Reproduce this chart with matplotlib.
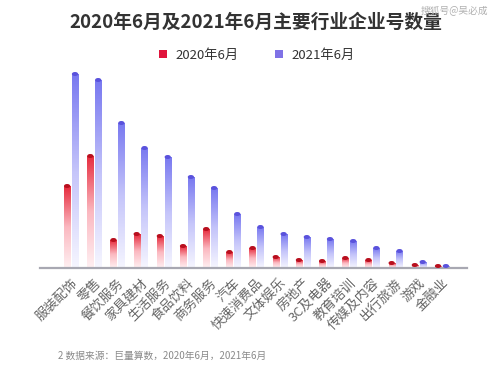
import matplotlib
matplotlib.use("Agg")
import matplotlib.pyplot as plt
import numpy as np
from matplotlib.patches import Ellipse, Patch
from matplotlib.colors import LinearSegmentedColormap

plt.rcParams['font.family'] = ['Noto Sans CJK SC', 'DejaVu Sans']

categories = ['服装配饰', '零售', '餐饮服务', '家具建材', '生活服务', '食品饮料', '商务服务', '汽车',
              '快速消费品', '文体娱乐', '房地产', '3C及电器', '教育培训', '传媒及内容', '出行旅游', '游戏', '金融业']
v2020 = [82, 112, 28, 34, 32, 22, 39, 16, 20, 11, 8, 7, 10, 8, 5, 3, 2]
v2021 = [194, 188, 145, 120, 111, 91, 80, 54, 41, 34, 31, 29, 27, 20, 17, 6, 2]
series_names = ['2020年6月', '2021年6月']

fig = plt.figure(figsize=(4.99, 3.70), dpi=100)
ax = fig.add_axes([40/499, 102/370, 427/499, 208/370])

x = np.arange(len(categories))
off = 0.17
bw = 0.27
cmap_r = LinearSegmentedColormap.from_list('r', ['#fff0f2', '#fbb8c0', '#e62a3c'])
cmap_b = LinearSegmentedColormap.from_list('b', ['#f6f6ff', '#c4c4fa', '#7878f0'])
grad = np.linspace(0, 1, 256).reshape(-1, 1)

def draw(xs, vals, cmap, capc):
    bars = ax.bar(xs, vals, width=bw, color='none', edgecolor='none')
    for b, v in zip(bars, vals):
        x0 = b.get_x()
        im = ax.imshow(grad, extent=[x0, x0 + bw, 0, v], origin='lower', aspect='auto',
                       cmap=cmap, zorder=2, interpolation='bilinear')
        im.set_clip_path(b)
        ax.add_patch(Ellipse((x0 + bw/2, v), bw, 4, facecolor=capc, edgecolor='none', zorder=3))

draw(x - off, v2020, cmap_r, '#b80f1e')
draw(x + off, v2021, cmap_b, '#5a52dc')

ax.set_xlim(-1.34, 17.08)
ax.set_ylim(0, 208)
for s in ['top', 'right', 'left']:
    ax.spines[s].set_visible(False)
ax.spines['bottom'].set_color('#a8a8b2')
ax.spines['bottom'].set_linewidth(1.6)
ax.set_yticks([])
ax.set_xticks(x)
ax.set_xticklabels(categories, rotation=45, ha='right', va='top', rotation_mode='anchor',
                   fontsize=9.5, color='#666666', fontweight='light')
ax.tick_params(axis='x', length=0, pad=6)

fig.text(0.512, 0.94, '2020年6月及2021年6月主要行业企业号数量', ha='center', va='center',
         fontsize=13.5, fontweight='bold', color='#333333')
handles = [Patch(facecolor='#e0143c', label=series_names[0]),
           Patch(facecolor='#7f72e6', label=series_names[1])]
fig.legend(handles=handles, loc='center', bbox_to_anchor=(0.515, 0.851), ncol=2, frameon=False,
           fontsize=9.5, handlelength=0.6, handleheight=0.6, handletextpad=0.6, columnspacing=2.8,
           labelcolor='#333333')
fig.text(0.978, 0.973, '搜狐号@吴必成', ha='right', va='center', fontsize=7, color='#b0b0b0')
fig.text(58/499, 1 - 356/370, '2 数据来源：巨量算数，2020年6月，2021年6月', ha='left', va='center',
         fontsize=7, color='#8a8a8a')

fig.savefig('out.png', dpi=100)
